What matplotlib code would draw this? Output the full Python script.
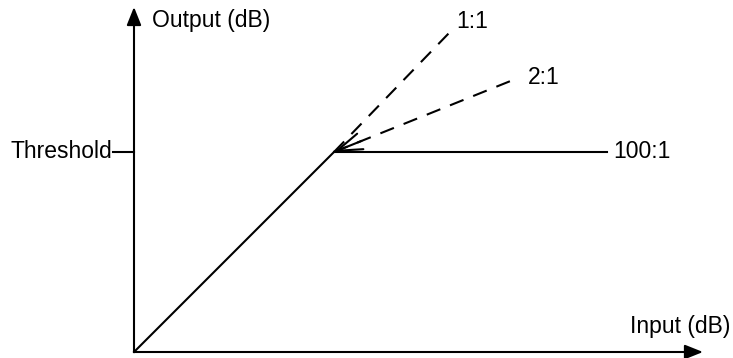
import matplotlib.pyplot as plt

plt.rcParams['font.family'] = ['Liberation Sans', 'DejaVu Sans']

# transfer curve (input dB -> output dB), arbitrary units
threshold = 10.0
knee = (10.0, 10.0)
below_x = [0.0, 10.0]
below_y = [0.0, 10.0]
ratio_labels = ['1:1', '2:1', '100:1']
ratio_end_x = [15.8, 19.2, 23.65]
ratio_end_y = [16.0, 13.7, 10.0]
ratio_styles = ['dashed', 'dashed', 'solid']
label_x = [16.1, 19.7, 23.95]
label_y = [16.55, 13.75, 10.0]

fig = plt.figure(figsize=(7.33, 3.58), dpi=100)
ax = fig.add_axes([0, 0, 1, 1])
ax.set_xlim(-6.7, 29.95)
ax.set_ylim(-0.3, 17.6)
ax.axis('off')

lw = 1.5
fs = 16.5
head = '-|>,head_length=0.55,head_width=0.22'

# axes with arrows
ax.annotate('', xy=(28.45, 0), xytext=(0, 0),
            arrowprops=dict(arrowstyle=head, lw=lw, color='black',
                            shrinkA=0, shrinkB=0, mutation_scale=20))
ax.annotate('', xy=(0, 17.25), xytext=(0, 0),
            arrowprops=dict(arrowstyle=head, lw=lw, color='black',
                            shrinkA=0, shrinkB=0, mutation_scale=20))
ax.text(29.8, 1.3, 'Input (dB)', ha='right', va='center', fontsize=fs)
ax.text(0.9, 16.55, 'Output (dB)', ha='left', va='center', fontsize=fs)

# threshold tick
ax.plot([-1.05, 0], [threshold, threshold], color='black', lw=lw)
ax.text(-1.1, threshold, 'Threshold', ha='right', va='center', fontsize=fs)

# below threshold
ax.plot(below_x, below_y, color='black', lw=lw)

# ratios above threshold
for lab, ex, ey, lx, ly, st in zip(ratio_labels, ratio_end_x, ratio_end_y,
                                   label_x, label_y, ratio_styles):
    ls = (0, (7, 5)) if st == 'dashed' else '-'
    ax.plot([knee[0], ex], [knee[1], ey], color='black', lw=lw, linestyle=ls)
    ax.text(lx, ly, lab, ha='left', va='center', fontsize=fs)

# open arrowhead at the knee along the 2:1 line
dx = ratio_end_x[1] - knee[0]
dy = ratio_end_y[1] - knee[1]
ax.annotate('', xy=knee, xytext=(knee[0] + 0.15 * dx, knee[1] + 0.15 * dy),
            arrowprops=dict(arrowstyle='->,head_length=0.9,head_width=0.3',
                            lw=lw, color='black', shrinkA=0, shrinkB=0,
                            mutation_scale=20))

fig.savefig('out.png', dpi=100)
